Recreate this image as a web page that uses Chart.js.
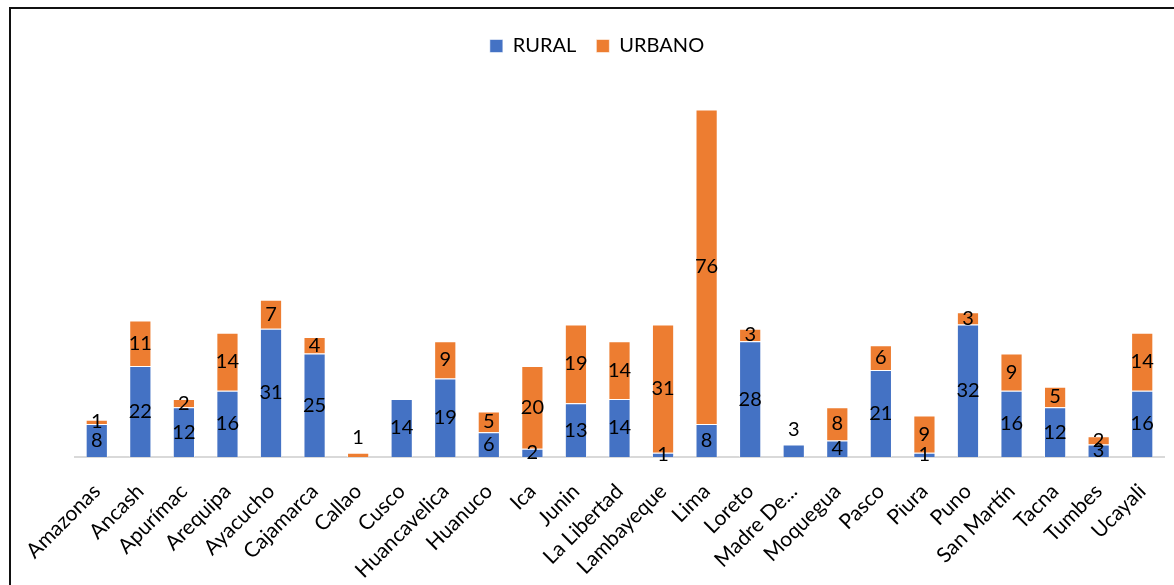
<!DOCTYPE html>
<html>
<head>
<meta charset="utf-8">
<script src="https://cdn.jsdelivr.net/npm/chart.js@4.4.0/dist/chart.umd.min.js"></script>
<style>
html, body { margin: 0; padding: 0; background: #fff; }
#wrap { position: relative; width: 1174px; height: 585px; overflow: hidden; }
#frame { position: absolute; left: 9px; top: 7px; width: 1300px; height: 700px;
         border-top: 2px solid #111; border-left: 2px solid #111; pointer-events: none; }
</style>
</head>
<body>
<div id="wrap">
  <canvas id="myChart" width="1174" height="585"></canvas>
  <div id="frame"></div>
</div>
<script>
// datos por región
const regiones = ['Amazonas', 'Ancash', 'Apurímac', 'Arequipa', 'Ayacucho', 'Cajamarca', 'Callao', 'Cusco',
    'Huancavelica', 'Huanuco', 'Ica', 'Junin', 'La Libertad', 'Lambayeque', 'Lima', 'Loreto', 'Madre De...',
    'Moquegua', 'Pasco', 'Piura', 'Puno', 'San Martín', 'Tacna', 'Tumbes', 'Ucayali'];
const rural  = [8, 22, 12, 16, 31, 25, 0, 14, 19, 6, 2, 13, 14, 1, 8, 28, 3, 4, 21, 1, 32, 16, 12, 3, 16];
const urbano = [1, 11, 2, 14, 7, 4, 1, 0, 9, 5, 20, 19, 14, 31, 76, 3, 0, 8, 6, 9, 3, 9, 5, 2, 14];
const yMax = 94.5;

Chart.defaults.font.family = 'Lato';

// etiquetas de valor dentro de cada barra
const etiquetas = {
    id: 'etiquetas',
    afterDatasetsDraw(chart) {
        const ctx = chart.ctx;
        ctx.save();
        ctx.font = '20px Lato';
        ctx.fillStyle = '#000';
        ctx.textAlign = 'center';
        ctx.textBaseline = 'middle';
        chart.data.datasets.forEach((ds, i) => {
            const meta = chart.getDatasetMeta(i);
            meta.data.forEach((bar, j) => {
                const v = ds.data[j];
                if (!v) return;
                // barra sola y muy baja: etiqueta encima
                const solo = chart.data.datasets.every((d, k) => k === i || !d.data[j]);
                let y = (bar.y + bar.base) / 2;
                if (solo && bar.base - bar.y < 20) y = bar.y - 15;
                ctx.fillText(v, bar.x, y);
            });
        });
        ctx.restore();
    }
};

const ctx = document.getElementById('myChart').getContext('2d');
const myChart = new Chart(ctx, {
    type: 'bar',
    data: {
        labels: regiones,
        datasets: [
            {
                label: 'RURAL',
                data: rural,
                backgroundColor: '#4472C4',
                borderColor: 'rgba(255,255,255,0.55)',
                borderWidth: 1
            },
            {
                label: 'URBANO',
                data: urbano,
                backgroundColor: '#ED7D31',
                borderColor: 'rgba(255,255,255,0.55)',
                borderWidth: 1
            }
        ]
    },
    options: {
        responsive: false,
        animation: false,
        categoryPercentage: 0.51,
        barPercentage: 1,
        layout: { padding: { left: 30, right: 10, top: 16, bottom: 0 } },
        plugins: {
            legend: {
                position: 'top',
                labels: {
                    boxWidth: 13,
                    boxHeight: 13,
                    padding: 20,
                    color: '#000',
                    font: { size: 20 }
                }
            },
            tooltip: { enabled: false }
        },
        scales: {
            x: {
                stacked: true,
                grid: { display: false },
                border: { display: true, color: '#d9d9d9', width: 2 },
                ticks: {
                    color: '#000',
                    font: { size: 21 },
                    minRotation: 45,
                    maxRotation: 45,
                    autoSkip: false,
                    padding: 14
                },
                afterFit(scale) {
                    scale.height = 128;
                    scale.paddingLeft = 75;
                    scale.paddingRight = 0;
                }
            },
            y: {
                stacked: true,
                display: false,
                min: 0,
                max: yMax
            }
        }
    },
    plugins: [etiquetas]
});
</script>
</body>
</html>
